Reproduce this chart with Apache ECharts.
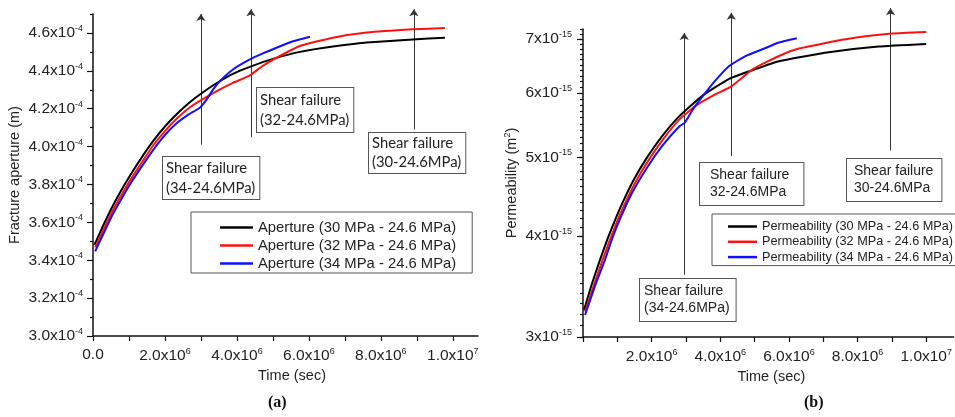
<!DOCTYPE html>
<html lang="en">
<head>
<meta charset="UTF-8">
<title>Aperture and permeability</title>
<script src="https://cdn.jsdelivr.net/npm/echarts@6/dist/echarts.min.js"></script>
<style>
	html, body { margin: 0; padding: 0; background: #fff; }
	#main { width: 955px; height: 417px; }
</style>
</head>
<body>
<div id="main"></div>
<script>
// panel (a): time in 1e6 s, aperture in 1e-4 m
var aperture30 = [[0.04,3.481],[0.28,3.582],[0.53,3.680],[0.78,3.767],[1.03,3.847],[1.35,3.942],[1.67,4.029],[2.0,4.106],[2.33,4.172],[2.65,4.228],[2.97,4.275],[3.42,4.333],[3.89,4.384],[4.36,4.421],[5.0,4.463],[5.75,4.500],[6.67,4.528],[7.61,4.549],[8.89,4.566],[9.78,4.575]];
var aperture32 = [[0.06,3.468],[0.31,3.569],[0.56,3.667],[0.81,3.751],[1.06,3.831],[1.38,3.923],[1.69,4.011],[2.0,4.082],[2.33,4.148],[2.65,4.201],[2.97,4.241],[3.44,4.293],[3.89,4.336],[4.36,4.376],[4.69,4.423],[5.10,4.469],[5.75,4.531],[6.67,4.575],[7.61,4.602],[8.89,4.619],[9.78,4.626]];
var aperture34 = [[0.06,3.447],[0.31,3.548],[0.56,3.646],[0.81,3.730],[1.06,3.810],[1.38,3.902],[1.69,3.987],[2.0,4.061],[2.33,4.124],[2.65,4.169],[2.97,4.205],[3.16,4.249],[3.33,4.299],[3.53,4.346],[3.89,4.407],[4.36,4.460],[4.72,4.492],[5.10,4.522],[5.56,4.556],[6.03,4.580]];

// panel (b): time in 1e6 s, permeability in 1e-15 m2
var perm30 = [[0.03,3.24],[0.26,3.49],[0.49,3.73],[0.72,3.97],[0.96,4.21],[1.19,4.43],[1.48,4.69],[1.83,4.97],[2.29,5.30],[2.81,5.62],[3.51,5.97],[4.26,6.25],[5.0,6.42],[5.71,6.57],[7.16,6.74],[8.61,6.85],[10.0,6.90]];
var perm32 = [[0.06,3.224],[0.29,3.449],[0.52,3.683],[0.75,3.921],[0.99,4.163],[1.22,4.382],[1.51,4.640],[1.86,4.921],[2.32,5.253],[2.81,5.569],[3.30,5.794],[3.80,5.962],[4.31,6.111],[4.94,6.420],[5.71,6.668],[6.29,6.811],[7.65,6.994],[8.99,7.107],[10.0,7.14]];
var perm34 = [[0.06,3.194],[0.35,3.469],[0.64,3.736],[0.84,3.955],[1.07,4.187],[1.42,4.510],[1.86,4.851],[2.32,5.171],[2.81,5.461],[2.96,5.514],[3.22,5.745],[3.49,5.950],[3.86,6.222],[4.26,6.481],[4.72,6.662],[5.23,6.797],[5.71,6.928],[6.23,7.013]];

// shear failure arrows: [time, from, to]
var arrowsA = [[3.0,4.01,4.70],[4.39,4.05,4.725],[8.92,4.09,4.725]];
var arrowsB = [[2.95,3.58,7.12],[4.32,5.02,7.54],[8.96,5.10,7.64]];

var namesA = ['Aperture (30 MPa - 24.6 MPa)', 'Aperture (32 MPa - 24.6 MPa)', 'Aperture (34 MPa - 24.6 MPa)'];
var namesB = ['Permeability (30 MPa - 24.6 MPa)', 'Permeability (32 MPa - 24.6 MPa)', 'Permeability (34 MPa - 24.6 MPa)'];

// tick values
var xTicks = [0,1e6,2e6,3e6,4e6,5e6,6e6,7e6,8e6,9e6,1e7];
var xLabelsA = [0,2e6,4e6,6e6,8e6,1e7];
var xLabelsB = [2e6,4e6,6e6,8e6,1e7];
var yLabelsA = [3.0e-4,3.2e-4,3.4e-4,3.6e-4,3.8e-4,4.0e-4,4.2e-4,4.4e-4,4.6e-4];
var yMinorA = [3.1e-4,3.3e-4,3.5e-4,3.7e-4,3.9e-4,4.1e-4,4.3e-4,4.5e-4,4.7e-4];
var yLabelsB = [3e-15,4e-15,5e-15,6e-15,7e-15];
var yMinorB = [];
for (var i = 30; i <= 72; i++) yMinorB.push(i / 10 * 1e-15);

var colors = ['#000000', '#ff1010', '#1010ff'];
var tickFont = 'Liberation Sans';

function scale(arr, sx, sy) {
	return arr.map(function (p) { return [p[0] * sx, p[1] * sy]; });
}
function arrowData(arr, sy) {
	return arr.map(function (a) { return { coords: [[a[0] * 1e6, a[1] * sy], [a[0] * 1e6, a[2] * sy]] }; });
}
function xFmt(v) {
	if (v === 0) return '0.0';
	var e = Math.floor(Math.log10(v) + 1e-9);
	return (v / Math.pow(10, e)).toFixed(1) + 'x10{s|' + e + '}';
}
var rich = { s: { fontSize: 9, fontFamily: tickFont, color: '#222', padding: [0, 0, 9, 0] } };
var axisLine = { lineStyle: { color: '#111', width: 1.5 } };
var tickStyle = { color: '#111', width: 1.2 };

var chart = echarts.init(document.getElementById('main'));
var series = [];
[aperture30, aperture32, aperture34].forEach(function (d, i) {
	series.push({
		name: namesA[i], type: 'line', xAxisIndex: 0, yAxisIndex: 0,
		data: scale(d, 1e6, 1e-4), symbol: 'none', smooth: 0.15,
		lineStyle: { color: colors[i], width: 2 }, itemStyle: { color: colors[i] }, z: 3
	});
});
[perm30, perm32, perm34].forEach(function (d, i) {
	series.push({
		name: namesB[i], type: 'line', xAxisIndex: 1, yAxisIndex: 2,
		data: scale(d, 1e6, 1e-15), symbol: 'none', smooth: 0.15,
		lineStyle: { color: colors[i], width: 2 }, itemStyle: { color: colors[i] }, z: 3
	});
});
series.push({
	type: 'lines', coordinateSystem: 'cartesian2d', xAxisIndex: 0, yAxisIndex: 0, clip: false,
	symbol: ['none', 'arrow'], symbolSize: [0, 7], silent: true,
	lineStyle: { color: '#333', width: 1, opacity: 1 }, data: arrowData(arrowsA, 1e-4), z: 2
});
series.push({
	type: 'lines', coordinateSystem: 'cartesian2d', xAxisIndex: 1, yAxisIndex: 2, clip: false,
	symbol: ['none', 'arrow'], symbolSize: [0, 7], silent: true,
	lineStyle: { color: '#333', width: 1, opacity: 1 }, data: arrowData(arrowsB, 1e-15), z: 2
});

function boxText(left, top, text, font, lh, pad) {
	return {
		type: 'text', left: left, top: top, z: 10,
		style: {
			text: text, font: font, fill: '#222', lineHeight: lh,
			backgroundColor: '#fff', borderColor: '#555', borderWidth: 1, padding: pad
		}
	};
}

var option = {
	animation: false,
	backgroundColor: '#fff',
	grid: [
		{ left: 93, top: 14, width: 385, height: 322 },
		{ left: 583, top: 29, width: 372, height: 308 }
	],
	legend: [
		{
			data: namesA, orient: 'vertical', left: 191, top: 212, icon: 'rect',
			itemWidth: 33, itemHeight: 2.5, itemGap: 3, padding: [8, 16, 2, 29],
			borderColor: '#555', borderWidth: 1, backgroundColor: '#fff',
			textStyle: { fontFamily: tickFont, fontSize: 14.8, color: '#222' }
		},
		{
			data: namesB, orient: 'vertical', left: 712, top: 214, icon: 'rect',
			itemWidth: 29, itemHeight: 2.5, itemGap: 2.3, padding: [6, 4, 2, 16],
			borderColor: '#555', borderWidth: 1, backgroundColor: '#fff',
			textStyle: { fontFamily: tickFont, fontSize: 12.7, color: '#222' }
		}
	],
	xAxis: [
		{
			gridIndex: 0, type: 'value', min: 0, max: 1.07e7,
			axisLine: axisLine, splitLine: { show: false },
			axisTick: { customValues: xTicks, length: 5, lineStyle: tickStyle },
			axisLabel: { customValues: xLabelsA, formatter: xFmt, margin: 11, fontFamily: tickFont, fontSize: 15.5, color: '#222', rich: rich },
			name: 'Time (sec)', nameLocation: 'middle', nameGap: 32,
			nameTextStyle: { fontFamily: tickFont, fontSize: 14.5, color: '#222', padding: [0, 0, 0, 13] }
		},
		{
			gridIndex: 1, type: 'value', min: 0, max: 1.08e7,
			axisLine: axisLine, splitLine: { show: false },
			axisTick: { customValues: xTicks, length: 5, lineStyle: tickStyle },
			axisLabel: { customValues: xLabelsB, formatter: xFmt, margin: 11, fontFamily: tickFont, fontSize: 15.5, color: '#222', rich: rich },
			name: 'Time (sec)', nameLocation: 'middle', nameGap: 30,
			nameTextStyle: { fontFamily: tickFont, fontSize: 14.5, color: '#222', padding: [0, 0, 0, 6] }
		}
	],
	yAxis: [
		{
			gridIndex: 0, type: 'value', position: 'left', min: 3.0e-4, max: 4.7e-4,
			axisLine: axisLine, splitLine: { show: false },
			axisTick: { customValues: yLabelsA, length: 6, lineStyle: tickStyle },
			axisLabel: {
				customValues: yLabelsA, margin: 10, fontFamily: tickFont, fontSize: 15.5, color: '#222', rich: rich,
				formatter: function (v) { return (v * 1e4).toFixed(1) + 'x10{s|-4}'; }
			},
			name: 'Fracture aperture (m)', nameLocation: 'middle', nameGap: 71,
			nameTextStyle: { fontFamily: tickFont, fontSize: 14.5, color: '#222' }
		},
		{
			gridIndex: 0, type: 'value', position: 'left', offset: 0, min: 3.0e-4, max: 4.7e-4,
			axisLine: { show: false }, splitLine: { show: false }, axisLabel: { show: false },
			axisTick: { customValues: yMinorA, length: 3, lineStyle: tickStyle }
		},
		{
			gridIndex: 1, type: 'log', logBase: 10, position: 'left', min: 3e-15, max: 7.2e-15,
			axisLine: axisLine, splitLine: { show: false },
			axisTick: { customValues: yLabelsB, length: 6, lineStyle: tickStyle },
			axisLabel: {
				customValues: yLabelsB, margin: 11, fontFamily: tickFont, fontSize: 15.5, color: '#222', rich: rich,
				formatter: function (v) { return Math.round(v * 1e15) + 'x10{s|-15}'; }
			},
			name: 'Permeability (m{s|2})', nameLocation: 'middle', nameGap: 62,
			nameTextStyle: { fontFamily: tickFont, fontSize: 14.5, color: '#222', rich: rich }
		},
		{
			gridIndex: 1, type: 'log', logBase: 10, position: 'left', offset: 0, min: 3e-15, max: 7.2e-15,
			axisLine: { show: false }, splitLine: { show: false }, axisLabel: { show: false },
			axisTick: { customValues: yMinorB, length: 3, lineStyle: tickStyle }
		}
	],
	graphic: [
		boxText(162, 156, 'Shear failure\n(34-24.6MPa)', '14.8px Lato', 20, [1, 4, 1, 3]),
		boxText(256, 87, 'Shear failure\n(32-24.6MPa)', '14.8px Lato', 20, [2, 4, 2, 3]),
		boxText(368, 132, 'Shear failure\n(30-24.6MPa)', '14.8px Lato', 19, [1, 4, 1, 3]),
		boxText(639, 278, 'Shear failure\n(34-24.6MPa)', '14px "Liberation Sans"', 17, [4, 6, 4, 4]),
		boxText(699, 162, 'Shear failure\n32-24.6MPa', '14px "Liberation Sans"', 17, [4, 14, 4, 10]),
		boxText(846, 158, 'Shear failure\n30-24.6MPa', '14px "Liberation Sans"', 17, [4, 8, 4, 7]),
		{ type: 'text', left: 268, top: 395, style: { text: '(a)', font: 'bold 16px "Liberation Serif"', fill: '#111' } },
		{ type: 'text', left: 804, top: 395, style: { text: '(b)', font: 'bold 16px "Liberation Serif"', fill: '#111' } }
	],
	series: series
};

chart.setOption(option);
</script>
</body>
</html>
